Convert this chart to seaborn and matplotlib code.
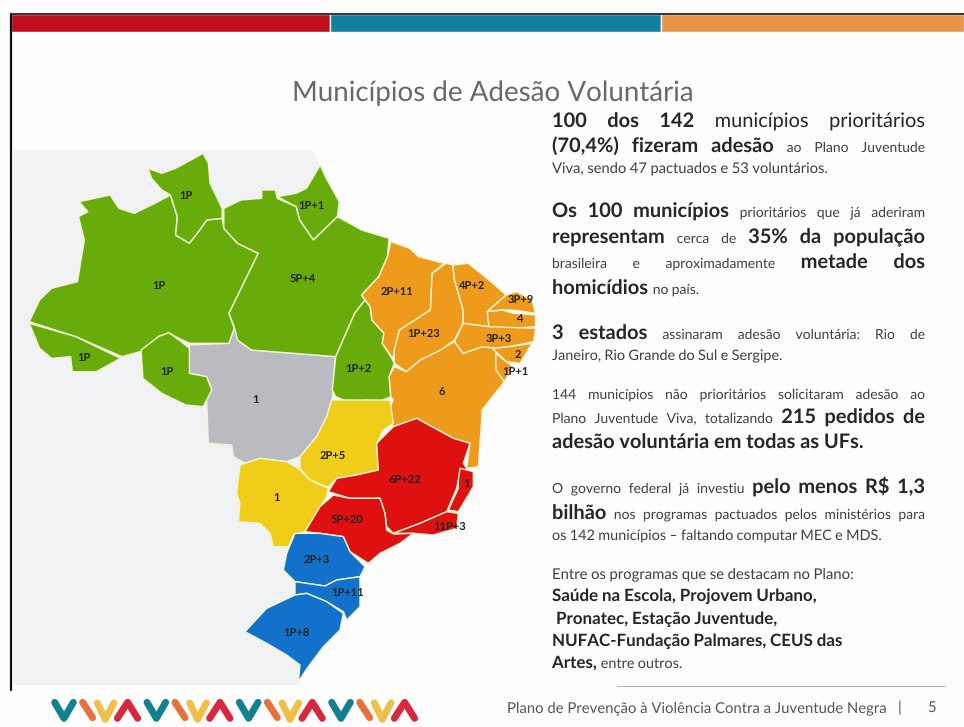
import numpy as np
import pandas as pd
import matplotlib
matplotlib.use("Agg")
import matplotlib.pyplot as plt
import matplotlib.patheffects as pe_mod
import seaborn as sns

# colours
GREEN = "#68AC0B"
ORANGE = "#EE9B1B"
GREY = "#B9BBC1"
YELLOW = "#F0CD18"
RED = "#DF1010"
BLUE = "#1272CB"
BORDER = "#F3F5D5"

am = [(230,185),(320,165),(345,205),(390,220),(450,190),(495,165),(515,230),(510,285),(550,310),(580,270),(600,240),(645,235),(650,265),(690,310),(750,340),(665,520),(680,565),(665,610),(550,610),(510,590),(490,578),(460,590),(440,625),(355,650),(220,590),(85,545),(115,480),(150,445),(225,425),(245,300),(228,230),(255,215)]
ac = [(85,550),(220,590),(350,655),(280,695),(210,695),(205,650),(150,655),(115,625)]
ro = [(410,630),(460,590),(490,578),(520,600),(550,625),(550,700),(600,710),(615,750),(590,800),(540,795),(470,760),(415,715)]
rr = [(430,85),(470,100),(510,85),(590,40),(605,70),(610,130),(645,205),(645,235),(600,240),(580,270),(550,310),(510,285),(515,230),(495,165),(470,150),(440,115)]
ap = [(805,170),(860,160),(890,145),(930,75),(945,110),(985,185),(980,230),(910,300),(870,240),(860,200)]
pa = [(650,205),(700,180),(760,175),(760,150),(800,150),(805,175),(860,200),(870,240),(910,300),(980,230),(1050,270),(1130,295),(1125,350),(1100,410),(1050,465),(1060,480),(1030,520),(975,650),(730,630),(690,600),(680,560),(665,520),(750,340),(690,310),(650,265)]
mt_a = [(550,615),(665,610),(682,560),(695,605),(730,630),(975,650),(965,775)]
mt_b = [(455,0),(440,50),(410,110),(360,170),(320,185),(240,175),(195,190),(160,170),(155,135),(85,130),(80,0)]
mt_a2 = [(590,795),(615,750),(600,710),(550,700)]
to = [(1060,480),(1075,500),(1080,540),(1115,580),(1110,610),(1135,650),(1145,670),(1130,710),(1135,770),(1100,785),(1060,780),(1020,790),(975,770),(965,750),(975,650),(1030,520)]
ma = [(1135,305),(1190,325),(1215,350),(1290,370),(1255,400),(1250,510),(1160,570),(1145,640),(1140,655),(1110,610),(1115,580),(1080,540),(1075,500),(1050,465),(1100,410),(1125,350)]
pi = [(1295,370),(1315,375),(1320,420),(1345,510),(1345,550),(1320,600),(1280,630),(1220,660),(1180,695),(1145,670),(1145,630),(1160,570),(1250,510),(1255,400)]
ce = [(1315,375),(1360,370),(1420,420),(1470,465),(1415,515),(1420,560),(1345,550),(1345,510),(1320,420)]
rn = [(1470,465),(1500,455),(1545,480),(1555,520),(1490,510),(1460,510),(1415,515)]
pb = [(1415,515),(1460,510),(1490,520),(1555,525),(1555,560),(1490,565),(1420,560)]
pe = [(1345,550),(1420,560),(1555,565),(1550,605),(1480,620),(1440,625),(1400,620),(1345,640),(1320,605)]
al = [(1430,625),(1480,620),(1545,610),(1510,670),(1470,665)]
se = [(1440,640),(1470,665),(1490,680),(1465,725),(1440,690)]
ba_a = [(1145,680),(1180,695),(1220,660),(1320,605),(1345,640),(1400,620),(1440,625),(1440,690),(1465,725),(1430,770),(1400,810)]
ba_b = [(905,60),(895,200),(860,205),(870,130),(820,115),(710,55),(640,80),(635,70),(630,20),(640,0)]
ba_a2 = [(1135,770),(1130,710)]
go = [(455,0),(630,0),(640,70),(610,90),(590,130),(595,210),(530,225),(470,235),(445,262),(390,240),(360,205),(360,170),(410,110),(440,50)]
ms = [(180,195),(240,175),(320,185),(355,205),(390,240),(445,265),(440,290),(375,395),(340,405),(325,440),(280,440),(270,400),(240,370),(175,365),(180,310),(170,280)]
mg = [(710,55),(820,115),(870,130),(850,190),(860,205),(835,240),(830,265),(800,335),(720,370),(640,400),(620,380),(615,340),(600,295),(510,295),(445,275),(470,235),(530,225),(595,210),(590,130),(640,80)]
es = [(840,205),(880,215),(880,260),(835,335),(805,330),(835,265),(835,240)]
rj = [(800,335),(835,340),(830,385),(760,405),(700,400),(640,400),(720,370)]
sp = [(460,285),(510,295),(600,295),(615,340),(620,390),(640,402),(700,400),(660,430),(600,460),(565,490),(510,455),(490,410),(420,400),(375,395),(420,320)]
pr = [(345,400),(420,400),(490,410),(510,455),(555,500),(540,530),(470,540),(435,558),(345,545),(310,510),(320,460)]
sc = [(345,545),(435,558),(470,540),(540,530),(540,620),(500,660),(490,635),(440,605),(380,580),(345,585)]
rs = [(345,585),(380,580),(440,605),(490,640),(480,690),(430,740),(385,800),(355,845),(360,795),(320,765),(260,730),(195,695),(260,625)]
neighbours = [(14,150),(312,150),(330,185),(335,260),(300,300),(300,685),(14,685)]

# labels on the map
map_labels = ["1P","1P+1","1P","5P+4","2P+11","4P+2","3P+9","4","1P+23","3P+3","2","1P+1","1P+2","1P","1P","1","6","2P+5","1","6P+22","1","5P+20","11P+3","2P+3","1P+11","1P+8"]
label_x = [186,311,159,303,397,472,521,520,424,499,518,515,358,84,167,255,442,333,276,405,466,347,450,317,348,296]
label_y = [196,206,286,280,292,286,300,319,334,339,355,372,369,358,372,400,393,456,498,480,484,520,527,560,593,633]

# right hand text: (y, justified, [(text, size, bold)])
B = 14.4
S = 10.0
F = 12.2
text_lines = [
    (127, True, [("100 dos 142", B, True), ("municípios prioritários", B, False)]),
    (152, True, [("(70,4%) fizeram adesão", B, True), ("ao Plano Juventude", S, False)]),
    (173, False, [("Viva, sendo 47 pactuados e 53 voluntários.", S+0.6, False)]),
    (217, True, [("Os 100 municípios", B, True), ("prioritários que já aderiram", S, False)]),
    (243, True, [("representam", B, True), ("cerca de", S, False), ("35% da população", B, True)]),
    (268, True, [("brasileira e aproximadamente", S, False), ("metade dos", B, True)]),
    (294, False, [("homicídios", B, True), ("no país.", S, False)]),
    (339, True, [("3 estados", B, True), ("assinaram adesão voluntária: Rio de", S, False)]),
    (360, False, [("Janeiro, Rio Grande do Sul e Sergipe.", S+0.4, False)]),
    (399, True, [("144 municípios não prioritários solicitaram adesão ao", S, False)]),
    (423, True, [("Plano Juventude Viva, totalizando", S, False), ("215 pedidos de", B, True)]),
    (448, False, [("adesão voluntária em todas as UFs.", B, True)]),
    (493, True, [("O governo federal já investiu", S, False), ("pelo menos R$ 1,3", B, True)]),
    (519, True, [("bilhão", B, True), ("nos programas pactuados pelos ministérios para", S, False)]),
    (540, False, [("os 142 municípios – faltando computar MEC e MDS.", S+0.4, False)]),
    (579, False, [("Entre os programas que se destacam no Plano:", S+0.7, False)]),
    (601, False, [("Saúde na Escola, Projovem Urbano,", F, True)]),
    (624, False, [(" Pronatec, Estação Juventude,", F, True)]),
    (646, False, [("NUFAC-Fundação Palmares, CEUS das", F, True)]),
    (668, False, [("Artes,", F, True), ("entre outros.", S+0.4, False)]),
]

# one logo period: teal V, orange bar, yellow V, red chevron
logo_strokes = {
    "#12818F": [(14,52),(42,100),(70,52)],
    "#E8703A": [(98,52),(128,98)],
    "#F0BE4A": [(142,54),(166,103),(192,54)],
    "#D9283E": [(202,100),(233,52),(263,100)],
}
logo_period = 277


def upper(pts):
    p = np.array(pts, dtype=float)
    return np.c_[p[:,0]/2.904, 140 + p[:,1]/3]


def lower(pts):
    p = np.array(pts, dtype=float)
    return np.c_[180 + p[:,0]/3, 400 + p[:,1]/3]


def draw_state(ax, pts, color):
    ax.fill(pts[:,0], pts[:,1], facecolor=color, edgecolor=BORDER, linewidth=1.0, joinstyle="round", zorder=3)


def draw_line(ax, renderer, y, justified, runs, x0=552, x1=925):
    # split in words so the line can be spread out to both margins
    words = []
    for txt, size, bold in runs:
        for w in txt.split(" "):
            if w:
                t = ax.text(0, y, w, fontsize=size, fontweight="bold" if bold else "normal",
                            color="#262626" if bold or size > 11 else "#404040", va="baseline", ha="left", zorder=5,
                            path_effects=[pe_mod.Normal()])  # drawn as path, keeps the baseline level
                words.append((t, t.get_window_extent(renderer).width, size))
    total = sum(w[1] for w in words)
    x = x0
    if runs[0][0].startswith(" "):
        x += 4
    gap = (x1 - x0 - total) / (len(words) - 1) if justified and len(words) > 1 else None
    for t, width, size in words:
        t.set_x(x)
        x += width + (gap if gap is not None else size * 0.33)


def main():
    sns.set_theme(style="white")
    plt.rcParams["font.family"] = ["Lato", "DejaVu Sans"]
    plt.rcParams["text.hinting"] = "no_hinting"
    fig = plt.figure(figsize=(9.64, 7.27), dpi=100, facecolor="#FDFDFD")
    ax = fig.add_axes([0, 0, 1, 1])
    ax.set_xlim(0, 964)
    ax.set_ylim(727, 0)

    # page frame and colour strip
    ax.barh([23], [319], left=11, height=18, color="#C00D1A", zorder=2)
    ax.barh([23], [331], left=330, height=18, color="#12819F", zorder=2)
    ax.barh([23], [303], left=661, height=18, color="#E8954A", zorder=2)
    sns.lineplot(x=[11, 964], y=[14, 14], color="#111111", linewidth=1.2, ax=ax, zorder=3)
    sns.lineplot(x=[11, 11.01], y=[14, 690], color="#111111", linewidth=1.6, ax=ax, estimator=None, zorder=3)

    # background continent
    nb = np.array(neighbours, dtype=float)
    ax.fill(nb[:,0], nb[:,1], color="#F1F2F4", linewidth=0, zorder=1)

    # states
    draw_state(ax, np.vstack([upper(mt_a), lower(mt_b), upper(mt_a2)]), GREY)
    for s in [am, ac, ro, rr, ap, pa, to]:
        draw_state(ax, upper(s), GREEN)
    draw_state(ax, np.vstack([upper(ba_a), lower(ba_b), upper(ba_a2)]), ORANGE)
    for s in [ma, pi, ce, rn, pb, pe, al, se]:
        draw_state(ax, upper(s), ORANGE)
    for s in [go, ms]:
        draw_state(ax, lower(s), YELLOW)
    for s in [mg, es, rj, sp]:
        draw_state(ax, lower(s), RED)
    for s in [pr, sc, rs]:
        draw_state(ax, lower(s), BLUE)

    for name, x, y in zip(map_labels, label_x, label_y):
        ax.text(x, y, name, fontsize=8.0, fontweight="bold", color="#222222", ha="center", va="center", zorder=6)

    ax.text(493, 93, "Municípios de Adesão Voluntária", fontsize=20, color="#686868", ha="center", va="center", zorder=5)

    renderer = fig.canvas.get_renderer()
    for y, justified, runs in text_lines:
        draw_line(ax, renderer, y, justified, runs)

    # footer
    sns.lineplot(x=[617, 945], y=[686, 686], color="#B5B5B5", linewidth=0.8, ax=ax, zorder=3)
    ax.text(507, 708, "Plano de Prevenção à Violência Contra a Juventude Negra", fontsize=10.7, color="#555555", va="center", zorder=5)
    ax.text(898, 708, "|", fontsize=10.7, color="#555555", va="center", zorder=5)
    ax.text(927, 708, "5", fontsize=10.7, color="#555555", va="center", zorder=5)

    # logo
    for k in range(4):
        for color, pts in logo_strokes.items():
            p = np.array(pts, dtype=float)
            df = pd.DataFrame({"x": 50 + (p[:,0] + k * logo_period) / 3, "y": 685 + p[:,1] / 3})
            sns.lineplot(data=df, x="x", y="y", color=color, linewidth=5, sort=False, estimator=None,
                         solid_capstyle="round", ax=ax, zorder=4)

    ax.set_xlim(0, 964)
    ax.set_ylim(727, 0)
    ax.set_axis_off()
    fig.savefig("out.png", dpi=100, facecolor=fig.get_facecolor())


if __name__ == "__main__":
    main()
